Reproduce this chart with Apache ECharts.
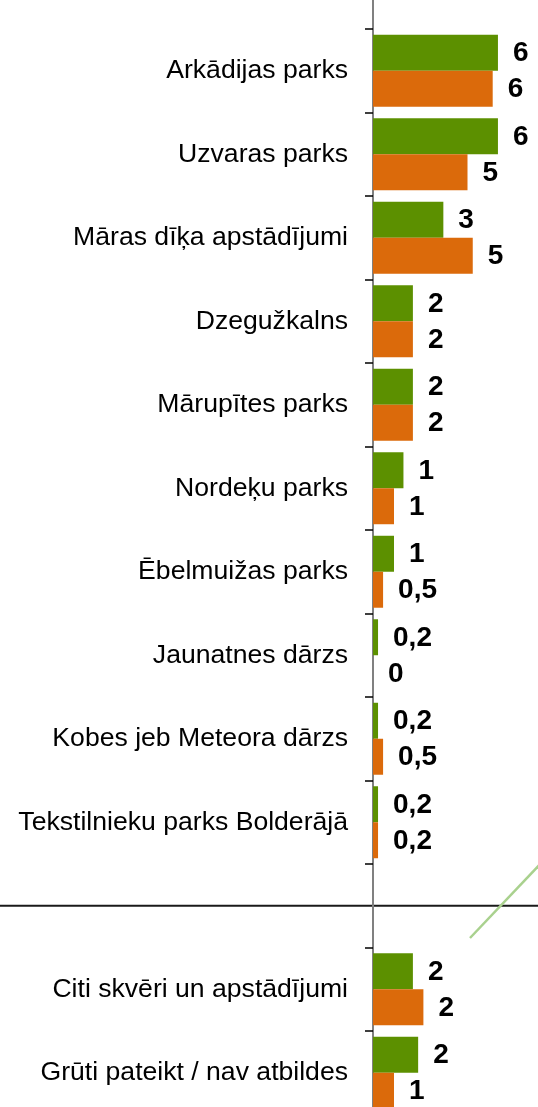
<!DOCTYPE html>
<html>
<head>
<meta charset="utf-8">
<script src="https://cdn.jsdelivr.net/npm/echarts@6/dist/echarts.min.js"></script>
<style>
  html, body { margin: 0; padding: 0; background: #fff; }
  #chart { width: 538px; height: 1107px; }
</style>
</head>
<body>
<div id="chart"></div>
<script>
// parks, top to bottom
const categories = [
  'Arkādijas parks', 'Uzvaras parks', 'Māras dīķa apstādījumi', 'Dzegužkalns',
  'Mārupītes parks', 'Nordeķu parks', 'Ēbelmuižas parks', 'Jaunatnes dārzs',
  'Kobes jeb Meteora dārzs', 'Tekstilnieku parks Bolderājā'
];
const otherCategories = ['Citi skvēri un apstādījumi', 'Grūti pateikt / nav atbildes'];

const greenValues = [5.95, 5.95, 3.35, 1.9, 1.9, 1.45, 1.0, 0.24, 0.24, 0.24];
const orangeValues = [5.7, 4.5, 4.75, 1.9, 1.9, 1.0, 0.48, 0, 0.48, 0.24];
const greenOther = [1.9, 2.15];
const orangeOther = [2.4, 1.0];

// empty slots: one above (cropped) and one for the separator
const yData = [''].concat(categories, [' '], otherCategories);
const build = (main, rest) => ['-'].concat(main, ['-'], rest);

const fmt = p => {
  const v = p.value;
  if (v === 0) return '0';
  if (v < 1) return v.toFixed(1).replace('.', ',');
  return String(Math.round(v));
};

const chart = echarts.init(document.getElementById('chart'));

const labelStyle = {
  show: true,
  position: 'right',
  distance: 15,
  offset: [0, 1],
  formatter: fmt,
  fontFamily: 'Liberation Sans, Arial, sans-serif',
  fontSize: 28,
  fontWeight: 'bold',
  color: '#000'
};

chart.setOption({
  animation: false,
  grid: { left: 373, top: -54.5, width: 210, height: 1169, outerBoundsMode: 'none', containLabel: false },
  xAxis: { type: 'value', min: 0, max: 10, show: false },
  yAxis: {
    type: 'category',
    inverse: true,
    data: yData,
    axisLine: { lineStyle: { color: '#808080', width: 2 } },
    axisTick: { show: true, interval: 0, length: 8, lineStyle: { color: '#000', width: 1.5 } },
    axisLabel: {
      interval: 0,
      margin: 25,
      fontFamily: 'Liberation Sans, Arial, sans-serif',
      fontSize: 26.6,
      color: '#000'
    }
  },
  series: [
    {
      type: 'bar',
      data: build(greenValues, greenOther),
      barGap: '0%',
      barCategoryGap: '13.8%',
      itemStyle: { color: '#5c9000' },
      label: labelStyle
    },
    {
      type: 'bar',
      data: build(orangeValues, orangeOther),
      itemStyle: { color: '#db6a0b' },
      label: labelStyle
    }
  ]
});

// separator line across the slide and the decorative green stroke
const sepY = chart.convertToPixel({ yAxisIndex: 0 }, 11);
chart.setOption({
  graphic: [
    {
      type: 'line',
      shape: { x1: 0, y1: sepY, x2: 538, y2: sepY },
      style: { stroke: '#1a1a1a', lineWidth: 2 }
    },
    {
      type: 'line',
      shape: { x1: 470, y1: 938, x2: 546, y2: 858 },
      style: { stroke: '#a9d18e', lineWidth: 2.5 }
    }
  ]
});
</script>
</body>
</html>
